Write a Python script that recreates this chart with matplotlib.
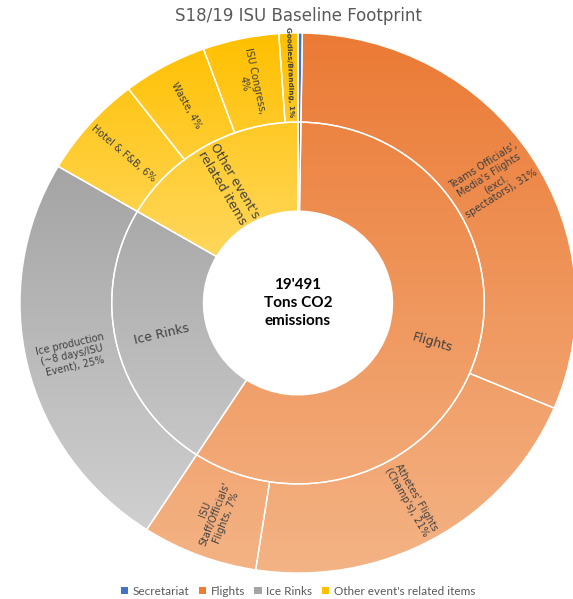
import numpy as np
import matplotlib
matplotlib.use("Agg")
import matplotlib.pyplot as plt
from matplotlib.patches import Wedge, Patch
from matplotlib.colors import LinearSegmentedColormap

# inner ring (groups) and outer ring (items), clockwise from 12 o'clock
groups = ["Secretariat", "Flights", "Ice Rinks", "Other event's related items"]
group_labels = ["", "Flights", "Ice Rinks", "Other event's\nrelated items"]
item_labels = [
    "",
    "Teams Officials',\nMedia's Flights\n(excl.\nspectators), 31%",
    "Athetes' Flights\n(Champ's), 21%",
    "ISU\nStaff/Officials'\nFlights, 7%",
    "Ice production\n(~8 days/ISU\nEvent), 25%",
    "Hotel & F&B, 6%",
    "Waste, 4%",
    "ISU Congress,\n4%",
    "Goodies/Branding, 1%",
]
item_group = [0, 1, 1, 1, 2, 3, 3, 3, 3]
item_values = [0.25, 31, 21, 6.7, 24.2, 6.1, 4.9, 4.4, 1.1]

group_values = [sum(v for v, g in zip(item_values, item_group) if g == i)
                for i in range(len(groups))]

# gradient colours per group (top, bottom) and legend colour
grad = [("#3F6EC2", "#6E95D8"), ("#EB7A35", "#F4B486"),
        ("#A4A4A4", "#D0D0D0"), ("#FFC000", "#FFDC70")]
legend_cols = ["#4472C4", "#ED7D31", "#A5A5A5", "#FFC000"]

R_HOLE, R_MID, R_OUT = 0.34, 0.67, 1.0
PX_X, PX_Y = 278.0, 270.0  # pixels per unit
CX, CY = 298.0, 303.0      # centre in pixels from top-left

fig = plt.figure(figsize=(5.73, 5.99), dpi=100)
ax = fig.add_axes([0, 0, 1, 1])
ax.axis("off")

total = sum(item_values)


def make_wedges(values, r_in, r_out):
    out = []
    start = 0.0
    for v in values:
        a1 = start
        a2 = start + v / total * 360.0
        w = Wedge((0, 0), r_out, 90 - a2, 90 - a1, width=r_out - r_in)
        out.append((w, a1, a2))
        start = a2
    return out


inner = make_wedges(group_values, R_HOLE, R_MID)
outer = make_wedges(item_values, R_MID, R_OUT)

# y range of each group for the vertical gradient
yr = {}
for (w, _, _), g in list(zip(inner, range(4))) + list(zip(outer, item_group)):
    v = w.get_path().vertices
    lo, hi = yr.get(g, (np.inf, -np.inf))
    yr[g] = (min(lo, v[:, 1].min()), max(hi, v[:, 1].max()))

grad_img = np.linspace(0, 1, 256).reshape(-1, 1)


def draw(w, g):
    w.set_facecolor("none")
    w.set_edgecolor("none")
    ax.add_patch(w)
    cmap = LinearSegmentedColormap.from_list("g%d" % g, [grad[g][1], grad[g][0]])
    lo, hi = yr[g]
    im = ax.imshow(grad_img, extent=(-1.2, 1.2, lo, hi), origin="lower",
                   cmap=cmap, aspect="auto", zorder=1, interpolation="bilinear")
    im.set_clip_path(w)
    edge = Wedge(w.center, w.r, w.theta1, w.theta2, width=w.width,
                 facecolor="none", edgecolor="white", lw=1.0, zorder=2)
    ax.add_patch(edge)


for i, (w, _, _) in enumerate(inner):
    draw(w, i)
for (w, _, _), g in zip(outer, item_group):
    draw(w, g)


def put_label(text, a1, a2, r, size, weight="normal"):
    if not text:
        return
    a = np.radians((a1 + a2) / 2)
    x, y = r * np.sin(a), r * np.cos(a)
    rot = np.degrees(np.arctan2(np.cos(a) * PX_Y, np.sin(a) * PX_X))
    if rot > 90:
        rot -= 180
    if rot < -90:
        rot += 180
    ax.text(x, y, text, ha="center", va="center", rotation=rot,
            rotation_mode="anchor", fontsize=size, color="#404040",
            fontweight=weight, linespacing=1.15, zorder=3,
            family="DejaVu Sans")


for (w, a1, a2), lab in zip(inner, group_labels):
    put_label(lab, a1, a2, (R_HOLE + R_MID) / 2, 9)
for (w, a1, a2), lab in zip(outer, item_labels):
    if lab.startswith("Goodies"):
        put_label(lab, a1, a2, (R_MID + R_OUT) / 2 + 0.02, 5.2, "bold")
    else:
        put_label(lab, a1, a2, (R_MID + R_OUT) / 2, 7)

ax.text(0, 0, "19'491\nTons CO2\nemissions", ha="center", va="center",
        fontsize=11, fontweight="bold", color="black", linespacing=1.4,
        family="Lato", zorder=3)

ax.set_xlim(-CX / PX_X, (573 - CX) / PX_X)
ax.set_ylim(-(599 - CY) / PX_Y, CY / PX_Y)

fig.text(0.52, 0.973, "S18/19 ISU Baseline Footprint", ha="center", va="center",
         fontsize=12, color="#595959", family="DejaVu Sans")

handles = [Patch(facecolor=c, edgecolor="none") for c in legend_cols]
fig.legend(handles, groups, loc="center", bbox_to_anchor=(0.52, 0.013), ncol=4,
           frameon=False, handlelength=0.6, handleheight=0.6,
           handletextpad=0.4, columnspacing=0.8, labelcolor="#595959",
           prop={"family": "Lato", "size": 8.5})

fig.savefig("out.png", dpi=100)
